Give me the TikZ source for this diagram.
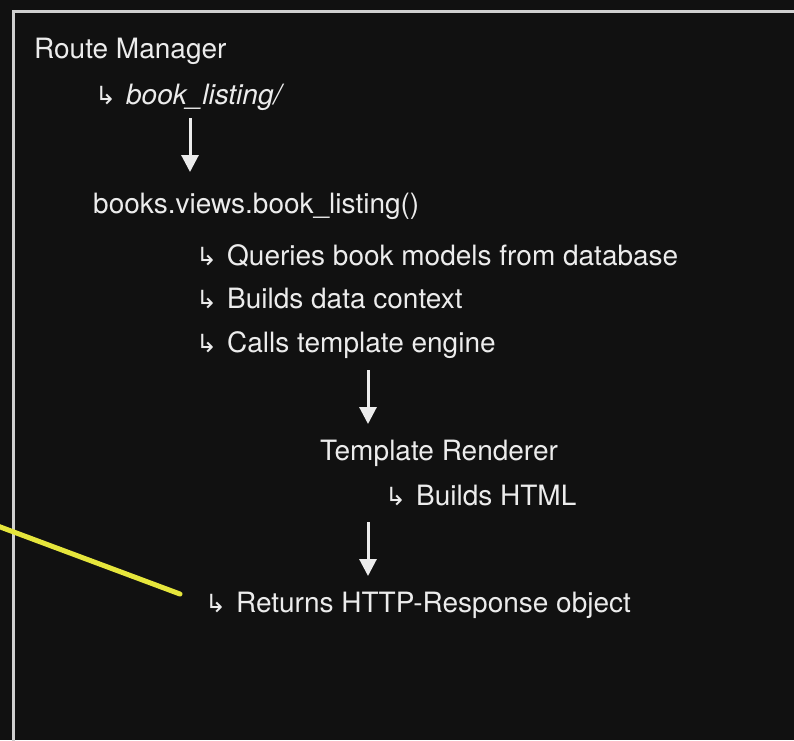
\documentclass[tikz,border=0pt]{standalone}
\usepackage{fontspec}
\setmainfont{TeX Gyre Heros}
\newfontfamily\arrowfont{DejaVu Sans}
\usetikzlibrary{arrows.meta}
\definecolor{bgcol}{HTML}{111111}
\definecolor{txtcol}{HTML}{ECECEC}
\definecolor{framecol}{HTML}{D0D0D0}
\definecolor{hilite}{HTML}{E6E63C}
\newcommand{\hookarr}{{\arrowfont\fontsize{25}{25}\selectfont ↳}\hspace{10pt}}
\tikzset{
  lbl/.style={anchor=base west, inner sep=0pt, text=txtcol, font=\fontsize{28}{32}\selectfont},
  flow/.style={draw=txtcol, line width=3pt, -{Triangle[length=17pt,width=17pt]}},
}
\begin{document}
\begin{tikzpicture}[x=1pt,y=-1pt]
\useasboundingbox (0,0) rectangle (794,740);
\fill[bgcol] (0,0) rectangle (794,740);
\draw[framecol, line width=3pt] (800,11.5) -- (13.5,11.5) -- (13.5,750);
\draw[hilite, line width=5pt, line cap=round] (-5,525) -- (180,594);

\node[lbl] (route) at (34,58) {Route Manager};
\node[lbl] (url) at (95,104) {\hookarr\textit{book\_listing/}};
\node[lbl] (view) at (93,213) {books.views.book\_listing()};
\node[lbl] (q1) at (196,265) {\hookarr Queries book models from database};
\node[lbl] (q2) at (196,308) {\hookarr Builds data context};
\node[lbl] (q3) at (196,352) {\hookarr Calls template engine};
\node[lbl] (tpl) at (320,460) {Template Renderer};
\node[lbl] (html) at (385,505) {\hookarr Builds HTML};
\node[lbl] (ret) at (205,612) {\hookarr Returns HTTP-Response object};

\coordinate (a1s) at (190,118);
\coordinate (a1e) at (190,172);
\coordinate (a2s) at (368,370);
\coordinate (a2e) at (368,424);
\coordinate (a3s) at (368,522);
\coordinate (a3e) at (368,576);
\draw[flow] (a1s) -- (a1e);
\draw[flow] (a2s) -- (a2e);
\draw[flow] (a3s) -- (a3e);
\end{tikzpicture}
\end{document}
